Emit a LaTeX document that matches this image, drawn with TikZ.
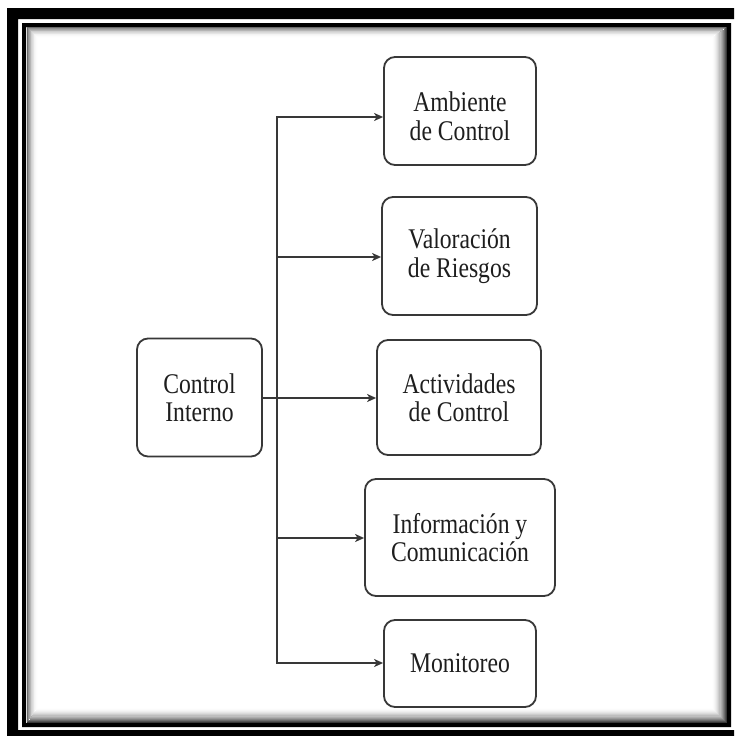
\documentclass[tikz,border=0pt]{standalone}
\usepackage{fontspec}
\setmainfont{Liberation Serif}[FakeStretch=0.83]
\usetikzlibrary{arrows.meta}
\definecolor{ink}{HTML}{1E1E1E}
\definecolor{edge}{HTML}{383838}
\begin{document}
\begin{tikzpicture}[x=1pt,y=-1pt,
  txt/.style={align=center, text=ink, font=\fontsize{28.5}{28.5}\selectfont},
  box/.style={txt, draw=edge, line width=1.8pt, rounded corners=11pt, fill=white, inner sep=0pt},
  lbl/.style={txt, inner sep=0pt},
  conn/.style={draw=edge, line width=1.6pt},
  arr/.style={conn, -{Stealth[length=9pt,width=8pt,inset=2.5pt]}},
]
\useasboundingbox (0,0) rectangle (734,736);
\fill[white] (0,0) rectangle (734,736);

% heavy outer frame (runs off the right edge)
\begin{scope}
  \clip (0,0) rectangle (734,736);
  \fill[black, even odd rule] (7,8) rectangle (760,760) (18,19) rectangle (740,730);
\end{scope}

% thin inner frame
\fill[black, even odd rule] (22,23) rectangle (731,727) (26,27) rectangle (727,723);

% inset shadow inside the inner frame
\foreach \k in {0,...,13}{
  \pgfmathsetmacro\tl{58*(1-\k/14)^2}
  \pgfmathsetmacro\br{78*(1-\k/14)^2}
  \pgfmathsetmacro\a{27.4+0.75*\k}
  \pgfmathsetmacro\b{0.5+1.1*\k}
  \draw[black!\tl, line width=1pt] (\a,723-\b) -- (\a,\a) -- (727-\b,\a);
  \draw[black!\br, line width=1.2pt] (727-\b,\a) -- (727-\b,723-\b) -- (\a,723-\b);
}

% boxes
\node[box, minimum width=125pt, minimum height=118pt] (ci) at (199.5,397.5) {Control\\Interno};
\node[box, minimum width=152pt, minimum height=108pt,
      label={[lbl, yshift=-5pt]center:Ambiente\\de Control}] (amb) at (460,111) {};
\node[box, minimum width=155pt, minimum height=118pt] (val) at (459.5,256) {Valoración\\de Riesgos};
\node[box, minimum width=164pt, minimum height=115pt] (act) at (459,397.5) {Actividades\\de Control};
\node[box, minimum width=190pt, minimum height=117pt] (inf) at (460,537.5) {Información y\\Comunicación};
\node[box, minimum width=152pt, minimum height=87pt] (mon) at (460,663.5) {Monitoreo};

% trunk and branches
\coordinate (t1) at (277,117);
\coordinate (t2) at (277,257);
\coordinate (t3) at (277,398);
\coordinate (t4) at (277,538);
\coordinate (t5) at (277,663);

\draw[conn, line cap=rect] (t1) -- (t5);
\draw[conn, line width=2pt] (ci.east |- t3) -- (t3);
\draw[arr] (t1) -- (t1 -| amb.west);
\draw[arr] (t2) -- (t2 -| val.west);
\draw[arr] (t3) -- (t3 -| act.west);
\draw[arr] (t4) -- (t4 -| inf.west);
\draw[arr] (t5) -- (t5 -| mon.west);
\end{tikzpicture}
\end{document}
